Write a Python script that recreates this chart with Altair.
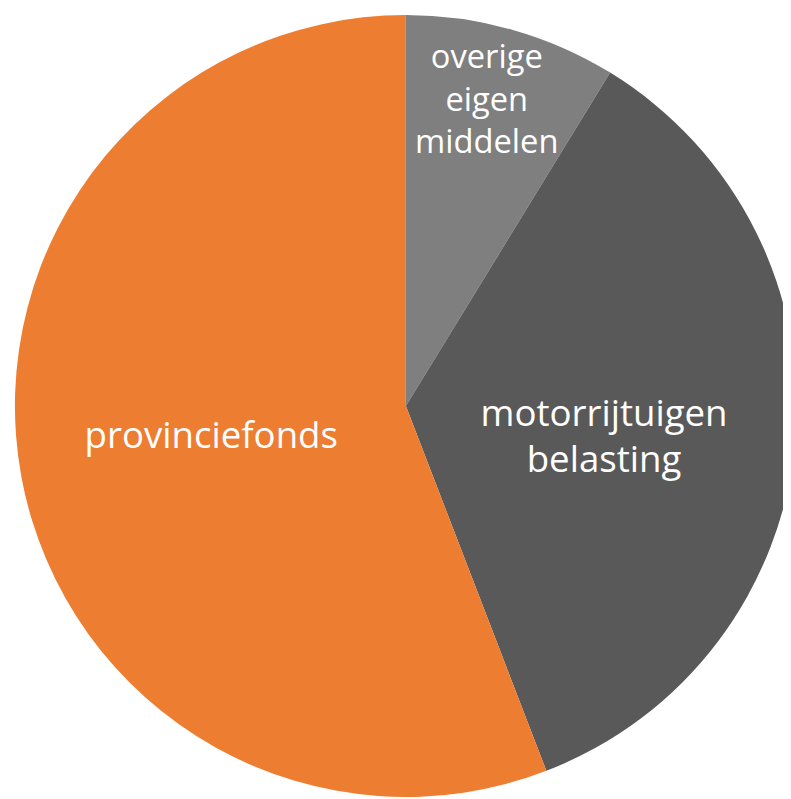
import altair as alt
import pandas as pd

categories = ["overige eigen middelen", "motorrijtuigen belasting", "provinciefonds"]
labels = ["overige\neigen\nmiddelen", "motorrijtuigen\nbelasting", "provinciefonds"]
values = [8.75, 35.4, 55.85]
colors = ["#7F7F7F", "#595959", "#ED7D31"]

df = pd.DataFrame({
    "cat": categories,
    "label": labels,
    "value": values,
    "idx": list(range(len(categories))),
})

CX, CY, R = 402, 398, 395
FONT = "Open Sans"

base = alt.Chart(df).encode(
    theta=alt.Theta("value:Q", stack=True),
    order=alt.Order("idx:O", sort="ascending"),
    x=alt.value(CX),
    y=alt.value(CY),
)

pie = base.mark_arc(radius=R).encode(
    color=alt.Color("cat:N", scale=alt.Scale(domain=categories, range=colors), legend=None)
)

def label_layer(cat, radius, size, lh, dx=0, dy=0):
    expr = f"datum.cat == '{cat}' ? datum.label : ''"
    return base.transform_calculate(lab=expr).mark_text(
        radius=radius, dx=dx, dy=dy, font=FONT, fontSize=size, color="white",
        lineBreak="\n", lineHeight=lh, align="center", baseline="middle"
    ).encode(text="lab:N")

chart = alt.layer(
    pie,
    label_layer("overige eigen middelen", 312, 33, 43, dx=-3, dy=-51),
    label_layer("motorrijtuigen belasting", 200, 37, 47, dx=1, dy=-9),
    label_layer("provinciefonds", 200, 37, 45, dx=0, dy=-5),
).properties(
    width=783, height=791, padding=0, autosize=alt.AutoSizeParams(type="none")
).configure_view(stroke=None)

chart.save("out.html", embed_options={"renderer": "svg", "actions": False})
